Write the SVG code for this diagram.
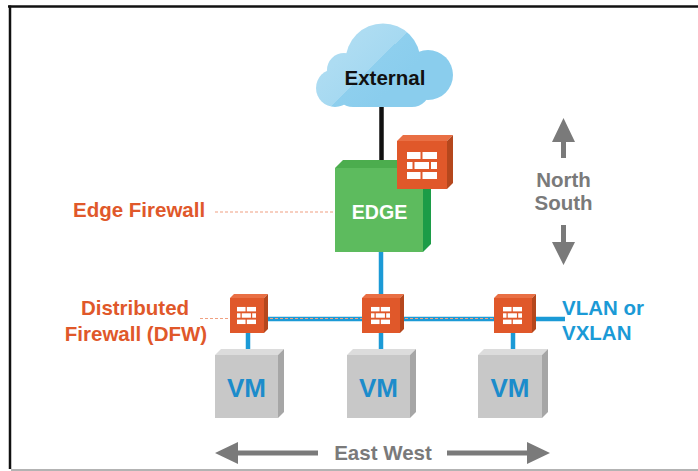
<svg xmlns="http://www.w3.org/2000/svg" xmlns:xlink="http://www.w3.org/1999/xlink" width="698" height="471" viewBox="0 0 698 471">
  <defs>
    <style>
      text { font-family: "Liberation Sans", Arial, sans-serif; font-weight: bold; }
      .orange { fill: #E0582A; font-size: 20.5px; }
      .gray-txt { fill: #7A7A7A; font-size: 20.5px; }
      .blue-txt { fill: #1B9AD6; font-size: 20.5px; }
      .vm-txt { fill: #1C8CCB; font-size: 26px; text-anchor: middle; }
      .fw-front { fill: #E0582A; }
      .fw-top { fill: #E96F44; }
      .fw-side { fill: #B5471D; }
      .vm-front { fill: #C8C8C8; }
      .vm-top { fill: #DCDCDC; }
      .vm-side { fill: #A6A6A6; }
      .blue-line { stroke: #1B9AD6; stroke-width: 4.5; fill: none; }
      .lead { stroke: #F0A081; stroke-width: 1.2; stroke-dasharray: 3 2; fill: none; }
      .arrow { fill: #7A7A7A; }
    </style>
    <linearGradient id="cloudFill" gradientUnits="userSpaceOnUse" x1="353" y1="44" x2="394" y2="86">
      <stop offset="0" stop-color="#ADDCF2"/>
      <stop offset="0.5" stop-color="#A6D9F1"/>
      <stop offset="0.5" stop-color="#8ECFEE"/>
      <stop offset="1" stop-color="#8ACDED"/>
    </linearGradient>
    <!-- white brick pattern used on every firewall block -->
    <symbol id="bricks" viewBox="0 0 30 27">
      <rect x="0" y="0" width="13.5" height="7" fill="#fff"/>
      <rect x="15.5" y="0" width="14.5" height="7" fill="#fff"/>
      <rect x="0" y="10" width="5.5" height="7" fill="#fff"/>
      <rect x="7.5" y="10" width="14.5" height="7" fill="#fff"/>
      <rect x="24" y="10" width="6" height="7" fill="#fff"/>
      <rect x="0" y="20" width="13.5" height="7" fill="#fff"/>
      <rect x="15.5" y="20" width="14.5" height="7" fill="#fff"/>
    </symbol>
  </defs>

  <rect width="698" height="471" fill="#fff"/>

  <!-- frame -->
  <g id="frame">
    <line x1="8" y1="6.5" x2="698" y2="6.5" stroke="#111" stroke-width="2.5"/>
    <line x1="10" y1="5.5" x2="10" y2="469" stroke="#111" stroke-width="2.5"/>
    <line x1="11" y1="470" x2="698" y2="470" stroke="#9A9A9A" stroke-width="1.5"/>
  </g>

  <!-- connectors -->
  <g id="connectors">
    <line x1="381.5" y1="100" x2="381.5" y2="162" stroke="#111" stroke-width="4.5"/>
    <line class="blue-line" x1="381" y1="250" x2="381" y2="319"/>
    <line class="blue-line" x1="262" y1="319" x2="565" y2="319"/>
    <line class="blue-line" x1="248" y1="330" x2="248" y2="353"/>
    <line class="blue-line" x1="381" y1="330" x2="381" y2="353"/>
    <line class="blue-line" x1="513" y1="330" x2="513" y2="353"/>
    <line class="lead" x1="200" y1="318.5" x2="530" y2="318.5" stroke="#E07C5A" stroke-width="1"/>
    <line class="lead" x1="215" y1="212" x2="335" y2="212"/>
  </g>

  <!-- cloud -->
  <g id="external">
    <g fill="url(#cloudFill)">
      <circle cx="383" cy="61" r="37.5"/>
      <circle cx="344" cy="70" r="17"/>
      <circle cx="335" cy="88" r="19"/>
      <circle cx="428" cy="75" r="25"/>
      <rect x="335" y="66" width="95" height="41" rx="18"/>
    </g>
    <text x="385" y="85" font-size="20.5" fill="#111" text-anchor="middle">External</text>
  </g>

  <!-- edge gateway block -->
  <g id="edge">
    <polygon points="335,168 343,160 431,160 423,168" fill="#4CAD4E"/>
    <polygon points="423,168 431,160 431,244 423,252" fill="#1C9C47"/>
    <rect x="335" y="168" width="88" height="84" fill="#5DBB5E"/>
    <text x="379.5" y="219" font-size="19.6" fill="#fff" text-anchor="middle">EDGE</text>
  </g>

  <!-- firewall sitting on the edge block -->
  <g id="fw-edge">
    <polygon class="fw-top" points="397,141 403,135 453,135 447,141"/>
    <polygon class="fw-side" points="447,141 453,135 453,183 447,189"/>
    <rect class="fw-front" x="397" y="141" width="50" height="48"/>
    <use href="#bricks" xlink:href="#bricks" x="407" y="152" width="30" height="27"/>
  </g>

  <!-- distributed firewall blocks -->
  <g id="fw1">
    <polygon class="fw-top" points="230,298 234,294 268,294 264,298"/>
    <polygon class="fw-side" points="264,298 268,294 268,329 264,333"/>
    <rect class="fw-front" x="230" y="298" width="34" height="35"/>
    <use href="#bricks" xlink:href="#bricks" x="237" y="306" width="19" height="19"/>
  </g>
  <g id="fw2">
    <polygon class="fw-top" points="362,298 366,294 404,294 400,298"/>
    <polygon class="fw-side" points="400,298 404,294 404,329 400,333"/>
    <rect class="fw-front" x="362" y="298" width="38" height="35"/>
    <use href="#bricks" xlink:href="#bricks" x="371" y="306" width="19" height="19"/>
  </g>
  <g id="fw3">
    <polygon class="fw-top" points="494,298 498,294 536,294 532,298"/>
    <polygon class="fw-side" points="532,298 536,294 536,329 532,333"/>
    <rect class="fw-front" x="494" y="298" width="38" height="35"/>
    <use href="#bricks" xlink:href="#bricks" x="503" y="306" width="19" height="19"/>
  </g>

  <!-- virtual machines -->
  <g id="vm1">
    <polygon class="vm-top" points="215,355 221,349 284,349 278,355"/>
    <polygon class="vm-side" points="278,355 284,349 284,412 278,418"/>
    <rect class="vm-front" x="215" y="355" width="63" height="63"/>
    <text class="vm-txt" x="246.5" y="397">VM</text>
  </g>
  <g id="vm2">
    <polygon class="vm-top" points="347,355 353,349 416,349 410,355"/>
    <polygon class="vm-side" points="410,355 416,349 416,412 410,418"/>
    <rect class="vm-front" x="347" y="355" width="63" height="63"/>
    <text class="vm-txt" x="378.5" y="397">VM</text>
  </g>
  <g id="vm3">
    <polygon class="vm-top" points="478,355 484,349 548,349 542,355"/>
    <polygon class="vm-side" points="542,355 548,349 548,412 542,418"/>
    <rect class="vm-front" x="478" y="355" width="64" height="63"/>
    <text class="vm-txt" x="510" y="397">VM</text>
  </g>

  <!-- labels -->
  <g id="labels">
    <text class="orange" x="73" y="217">Edge Firewall</text>
    <text class="orange" x="135" y="315" text-anchor="middle">Distributed</text>
    <text class="orange" x="136" y="341" text-anchor="middle">Firewall (DFW)</text>
    <text class="blue-txt" x="562" y="315">VLAN or</text>
    <text class="blue-txt" x="562" y="340">VXLAN</text>
  </g>

  <!-- traffic direction: north-south -->
  <g id="north-south">
    <polygon class="arrow" points="563.5,118 575,142 566,142 566,158 561,158 561,142 552,142"/>
    <polygon class="arrow" points="561,225 566,225 566,242 575,242 563.5,265 552,242 561,242"/>
    <text class="gray-txt" x="563.5" y="187" text-anchor="middle">North</text>
    <text class="gray-txt" x="563.5" y="210" text-anchor="middle">South</text>
  </g>

  <!-- traffic direction: east-west -->
  <g id="east-west">
    <polygon class="arrow" points="215,453 238,442 238,450.5 318,450.5 318,455.5 238,455.5 238,464"/>
    <polygon class="arrow" points="550,453 527,442 527,450.5 447,450.5 447,455.5 527,455.5 527,464"/>
    <text class="gray-txt" x="383" y="460" font-size="21" text-anchor="middle">East West</text>
  </g>
</svg>
